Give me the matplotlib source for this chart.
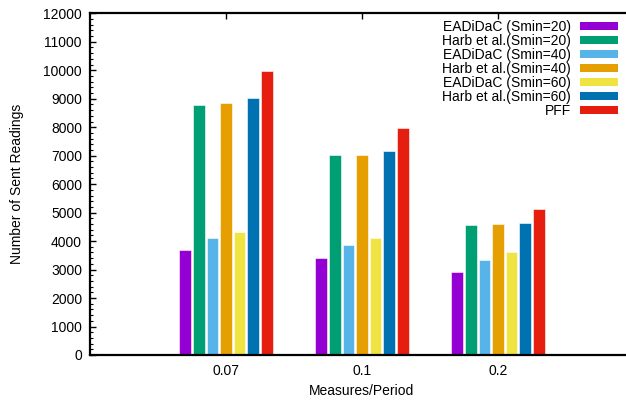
import matplotlib
matplotlib.use("Agg")
import matplotlib.pyplot as plt
import numpy as np
from matplotlib.ticker import MultipleLocator

plt.rcParams['font.family'] = ['Liberation Sans', 'DejaVu Sans']

categories = ["0.07", "0.1", "0.2"]
series_names = ["EADiDaC (Smin=20)", "Harb et al.(Smin=20)", "EADiDaC (Smin=40)",
                "Harb et al.(Smin=40)", "EADiDaC (Smin=60)", "Harb et al.(Smin=60)", "PFF"]
eadidac_20 = [3687, 3417, 2915]
harb_20 = [8780, 7013, 4576]
eadidac_40 = [4098, 3852, 3347]
harb_40 = [8860, 7034, 4600]
eadidac_60 = [4330, 4119, 3628]
harb_60 = [9015, 7164, 4625]
pff = [9974, 7982, 5117]
series_values = [eadidac_20, harb_20, eadidac_40, harb_40, eadidac_60, harb_60, pff]
colors = ["#9400D3", "#009E73", "#56B4E9", "#E69F00", "#F0E442", "#0072B2", "#E51E10"]

fig = plt.figure(figsize=(6.26, 4.03), dpi=100)
W, H = 626, 403
left, right, top, bottom = 90, 634, 13.3, 355
ax = fig.add_axes([left / W, 1 - bottom / H, (right - left) / W, (bottom - top) / H])

x = np.arange(len(categories))
pitch = 0.1
width = 0.085
handles = []
for i, (name, vals, c) in enumerate(zip(series_names, series_values, colors)):
    b = ax.bar(x + (i - 3) * pitch, vals, width=width, color=c, edgecolor='white',
               linewidth=0.4, label=name, zorder=2)
    handles.append(b)

ax.set_xlim(-1, 3)
ax.set_ylim(0, 12000)
ax.set_xticks(x)
ax.set_xticklabels(categories)
ax.yaxis.set_major_locator(MultipleLocator(1000))
ax.yaxis.set_minor_locator(MultipleLocator(200))

for s in ['left', 'bottom', 'top']:
    ax.spines[s].set_linewidth(1.6)
ax.spines['right'].set_visible(False)

ax.tick_params(axis='y', which='major', direction='in', length=4, width=1, labelsize=10, pad=5.8, right=False)
ax.tick_params(axis='y', which='minor', direction='in', length=2, width=0.8, right=False)
ax.tick_params(axis='x', which='major', direction='in', length=4, width=1, labelsize=10, pad=6.5, top=True)
ax.tick_params(axis='x', which='minor', bottom=False, top=False)

ax.set_xlabel("Measures/Period", fontsize=10)
ax.xaxis.set_label_coords(0.5, -0.105)
ax.xaxis.label.set_va('center')
ax.set_ylabel("Number of Sent Readings", fontsize=10)
ax.yaxis.set_label_coords(-0.134, 0.5)
ax.yaxis.label.set_va('center')

leg = fig.legend(handles=handles, labels=series_names, loc='upper right',
                 bbox_to_anchor=(617.5 / W, 1 - 20.3 / H), frameon=False,
                 markerfirst=False, fontsize=10, handlelength=2.73, handleheight=0.5,
                 handletextpad=0.6, labelspacing=0.0, borderpad=0, borderaxespad=0)
for p in leg.get_patches():
    p.set_edgecolor('none')

fig.savefig("out.png", dpi=100)
